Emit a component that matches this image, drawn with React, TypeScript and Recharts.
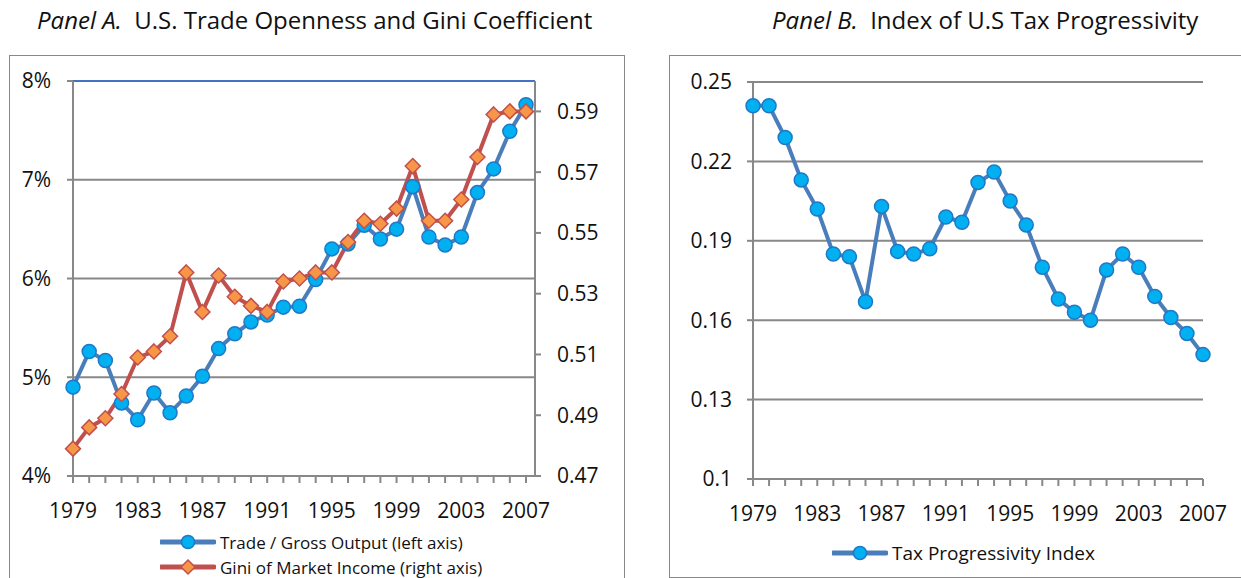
import React from 'react';
import { LineChart, Line, XAxis, YAxis, CartesianGrid, ReferenceLine } from 'recharts';

const years = [
  1979, 1980, 1981, 1982, 1983, 1984, 1985, 1986, 1987, 1988, 1989, 1990, 1991, 1992, 1993,
  1994, 1995, 1996, 1997, 1998, 1999, 2000, 2001, 2002, 2003, 2004, 2005, 2006, 2007,
];
const labelYears = [1979, 1983, 1987, 1991, 1995, 1999, 2003, 2007];

// Panel A: trade / gross output (%) and Gini of market income
const tradeShare = [
  4.9, 5.26, 5.17, 4.74, 4.57, 4.84, 4.64, 4.81, 5.01, 5.29, 5.44, 5.56, 5.63, 5.71, 5.72,
  5.99, 6.3, 6.35, 6.54, 6.4, 6.5, 6.93, 6.42, 6.34, 6.42, 6.87, 7.11, 7.49, 7.76,
];
const giniMarket = [
  0.479, 0.486, 0.489, 0.497, 0.509, 0.511, 0.516, 0.537, 0.524, 0.536, 0.529, 0.526, 0.524, 0.534,
  0.535, 0.537, 0.537, 0.547, 0.554, 0.553, 0.558, 0.572, 0.554, 0.554, 0.561, 0.575, 0.589, 0.59,
  0.59,
];
const leftTicks = [4, 5, 6, 7, 8];
const rightTicks = [0.47, 0.49, 0.51, 0.53, 0.55, 0.57, 0.59];

// Panel B: tax progressivity index
const taxIndex = [
  0.241, 0.241, 0.229, 0.213, 0.202, 0.185, 0.184, 0.167, 0.203, 0.186, 0.185, 0.187, 0.199, 0.197,
  0.212, 0.216, 0.205, 0.196, 0.18, 0.168, 0.163, 0.16, 0.179, 0.185, 0.18, 0.169, 0.161, 0.155,
  0.147,
];
const taxTicks = [0.1, 0.13, 0.16, 0.19, 0.22, 0.25];

const dataA = years.map((year, i) => ({ year, trade: tradeShare[i], gini: giniMarket[i] }));
const dataB = years.map((year, i) => ({ year, tax: taxIndex[i] }));

const FONT = '"Open Sans", sans-serif';
const AXIS = '#888888';
const TEXT = '#111111';
const BLUE_LINE = '#4a7ebb';
const BLUE_DOT = '#00b0f0';
const BLUE_EDGE = '#1f78c8';
const RED_LINE = '#c0504d';
const ORANGE = '#f79646';

const yearLabel = (y: number) => (labelYears.includes(y) ? String(y) : '');

const Diamond = (props: any) => {
  const { cx, cy, index } = props;
  const s = 7.5;
  return (
    <path
      key={`d-${index}`}
      d={`M${cx},${cy - s} L${cx + s},${cy} L${cx},${cy + s} L${cx - s},${cy} Z`}
      fill={ORANGE}
      stroke={RED_LINE}
      strokeWidth={1.5}
    />
  );
};

const circleDot = { r: 7, fill: BLUE_DOT, stroke: BLUE_EDGE, strokeWidth: 1.5 };

const LegendSample = ({ color, marker }: { color: string; marker: 'circle' | 'diamond' }) => (
  <svg width={56} height={20} style={{ display: 'block' }}>
    <line x1={1} y1={10} x2={54} y2={10} stroke={color} strokeWidth={5} strokeLinecap="round" />
    {marker === 'circle' ? (
      <circle cx={28} cy={10} r={6.5} fill={BLUE_DOT} stroke={BLUE_EDGE} strokeWidth={1.5} />
    ) : (
      <path d="M28,3 L35,10 L28,17 L21,10 Z" fill={ORANGE} stroke={RED_LINE} strokeWidth={1.5} />
    )}
  </svg>
);

const legendRow = (top: number, left: number, size: number, sample: React.ReactNode, text: string) => (
  <div
    style={{
      position: 'absolute',
      top: top - 12,
      left,
      height: 24,
      display: 'flex',
      alignItems: 'center',
      fontSize: size,
      color: TEXT,
      whiteSpace: 'nowrap',
    }}
  >
    {sample}
    <span style={{ marginLeft: 4 }}>{text}</span>
  </div>
);

export default function App() {
  return (
    <div
      style={{
        position: 'absolute',
        left: 0,
        top: 0,
        width: 1241,
        height: 578,
        overflow: 'hidden',
        background: '#fff',
        fontFamily: FONT,
        color: TEXT,
      }}
    >
      {/* titles */}
      <div style={{ position: 'absolute', left: 37, top: 3, fontSize: 24, whiteSpace: 'nowrap' }}>
        <i>Panel A.</i>&nbsp; U.S. Trade Openness and Gini Coefficient
      </div>
      <div style={{ position: 'absolute', left: 772, top: 3, fontSize: 24, whiteSpace: 'nowrap' }}>
        <i>Panel B.</i>&nbsp; Index of U.S Tax Progressivity
      </div>

      {/* panel frames */}
      <div style={{ position: 'absolute', left: 9, top: 55, width: 614, height: 540, border: `1.5px solid ${AXIS}` }} />
      <div style={{ position: 'absolute', left: 669, top: 55, width: 600, height: 521, border: `1.5px solid ${AXIS}` }} />

      {/* Panel A */}
      <div style={{ position: 'absolute', left: 0, top: 0 }}>
        <LineChart width={624} height={578} data={dataA} margin={{ top: 81, right: 19, bottom: 0, left: 0 }}>
          <CartesianGrid yAxisId="left" vertical={false} stroke={AXIS} strokeWidth={2} />
          <XAxis
            dataKey="year"
            type="number"
            domain={[1979, 2007]}
            ticks={years}
            interval={0}
            padding={{ left: 0, right: 9 }}
            tickFormatter={yearLabel}
            stroke={AXIS}
            strokeWidth={2}
            tickSize={7}
            tickMargin={20}
            height={102}
            tick={{ fill: TEXT, fontSize: 21 }}
          />
          <YAxis
            yAxisId="left"
            orientation="left"
            domain={[4, 8]}
            ticks={leftTicks}
            tickFormatter={(v: number) => `${v}%`}
            width={73}
            stroke={AXIS}
            strokeWidth={2}
            tickSize={6}
            tickMargin={16}
            tick={{ fill: TEXT, fontSize: 21 }}
          />
          <YAxis
            yAxisId="right"
            orientation="right"
            domain={[0.47, 0.6]}
            ticks={rightTicks}
            tickFormatter={(v: number) => v.toFixed(2)}
            width={70}
            stroke={AXIS}
            strokeWidth={2}
            tickSize={6}
            tickMargin={16}
            tick={{ fill: TEXT, fontSize: 21, textAnchor: 'start' }}
          />
          <ReferenceLine yAxisId="left" y={8} stroke="#4472c4" strokeWidth={2} />
          <Line
            yAxisId="left"
            dataKey="trade"
            stroke={BLUE_LINE}
            strokeWidth={4}
            dot={circleDot}
            activeDot={false}
            isAnimationActive={false}
          />
          <Line
            yAxisId="right"
            dataKey="gini"
            stroke={RED_LINE}
            strokeWidth={4}
            dot={Diamond}
            activeDot={false}
            isAnimationActive={false}
          />
        </LineChart>
      </div>
      {legendRow(542, 160, 17, <LegendSample color={BLUE_LINE} marker="circle" />, 'Trade / Gross Output (left axis)')}
      {legendRow(567, 160, 17, <LegendSample color={RED_LINE} marker="diamond" />, 'Gini of Market Income (right axis)')}

      {/* Panel B */}
      <div style={{ position: 'absolute', left: 640, top: 0 }}>
        <LineChart width={601} height={578} data={dataB} margin={{ top: 82, right: 38, bottom: 0, left: 0 }}>
          <CartesianGrid vertical={false} stroke={AXIS} strokeWidth={2} />
          <XAxis
            dataKey="year"
            type="number"
            domain={[1979, 2007]}
            ticks={years}
            interval={0}
            tickFormatter={yearLabel}
            stroke={AXIS}
            strokeWidth={2}
            tickSize={7}
            tickMargin={20}
            height={99}
            tick={{ fill: TEXT, fontSize: 21 }}
          />
          <YAxis
            domain={[0.1, 0.25]}
            ticks={taxTicks}
            tickFormatter={(v: number) => String(Number(v.toFixed(2)))}
            width={113}
            stroke={AXIS}
            strokeWidth={2}
            tickSize={6}
            tickMargin={15}
            tick={{ fill: TEXT, fontSize: 21 }}
          />
          <Line
            dataKey="tax"
            stroke={BLUE_LINE}
            strokeWidth={4}
            dot={{ r: 7, fill: BLUE_DOT, stroke: BLUE_EDGE, strokeWidth: 1.5 }}
            activeDot={false}
            isAnimationActive={false}
          />
        </LineChart>
      </div>
      {legendRow(553, 832, 19, <LegendSample color={BLUE_LINE} marker="circle" />, 'Tax Progressivity Index')}
    </div>
  );
}
